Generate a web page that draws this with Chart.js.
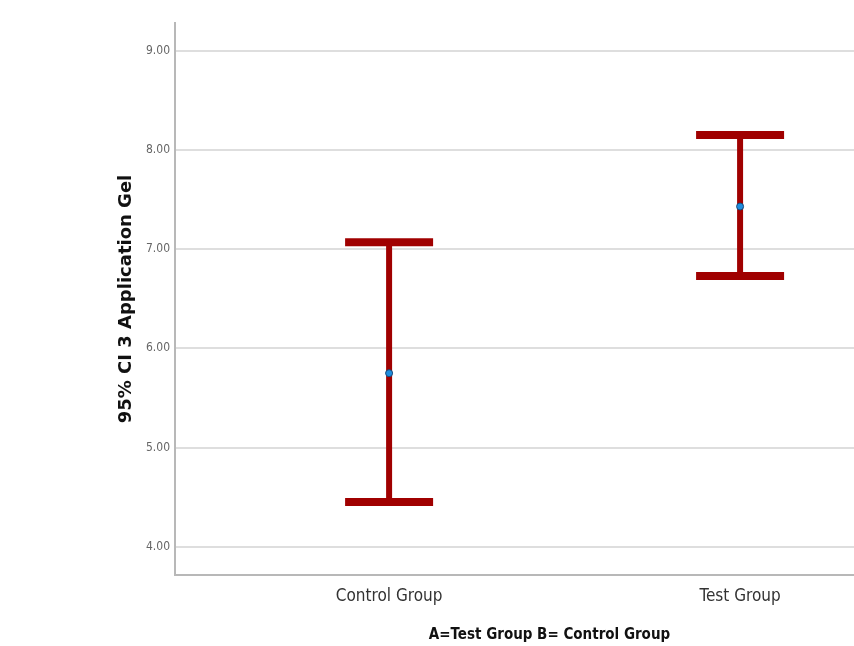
<!DOCTYPE html>
<html>
<head>
<meta charset="utf-8">
<script src="https://cdn.jsdelivr.net/npm/chart.js@4.4.1/dist/chart.umd.min.js"></script>
<style>
  html, body { margin: 0; padding: 0; background: #fff; overflow: hidden; }
  #wrap { width: 854px; height: 646px; overflow: hidden; position: relative; }
  #ci { position: absolute; left: 0; top: 0; }
</style>
</head>
<body>
<div id="wrap"><canvas id="ci" width="924" height="646"></canvas></div>
<script>
const groups = ['Control Group', 'Test Group'];
const means = [5.75, 7.43];
const lower = [4.45, 6.73];
const upper = [7.07, 8.15];
const yTicks = [4, 5, 6, 7, 8, 9];

const RED = '#a00000';
const condensed = "'DejaVu Sans Condensed', 'Liberation Sans Narrow', sans-serif";

// one vertical whisker per group
const whiskers = groups.map((g, i) => ({
  type: 'line',
  label: g + ' CI',
  data: [{x: i, y: lower[i]}, {x: i, y: upper[i]}],
  borderColor: RED,
  borderWidth: 6,
  pointRadius: 0,
  order: 3
}));

const caps = {
  type: 'scatter',
  label: 'caps',
  data: groups.flatMap((g, i) => [{x: i, y: lower[i]}, {x: i, y: upper[i]}]),
  pointStyle: 'line',
  pointRadius: 44,
  pointHoverRadius: 44,
  borderColor: RED,
  borderWidth: 8,
  order: 2
};

const meanPts = {
  type: 'scatter',
  label: 'mean',
  data: groups.map((g, i) => ({x: i, y: means[i]})),
  pointStyle: 'circle',
  pointRadius: 3.5,
  backgroundColor: '#1e8ee0',
  borderColor: '#174a78',
  borderWidth: 1,
  order: 1
};

new Chart(document.getElementById('ci'), {
  type: 'scatter',
  data: { datasets: [...whiskers, caps, meanPts] },
  options: {
    responsive: false,
    animation: false,
    devicePixelRatio: 1,
    layout: { autoPadding: false, padding: { top: 23, right: 0, left: 0, bottom: 0 } },
    plugins: { legend: { display: false }, tooltip: { enabled: false } },
    scales: {
      x: {
        type: 'linear',
        min: -0.61,
        max: 1.524,
        afterBuildTicks: (s) => { s.ticks = groups.map((g, i) => ({value: i})); },
        afterFit: (s) => { s.height = 71; },
        ticks: {
          callback: (v) => groups[v],
          color: '#333',
          padding: 11,
          font: { family: condensed, size: 17 }
        },
        grid: { display: false, drawTicks: false },
        border: { color: '#b8b8b8', width: 2 },
        title: {
          display: true,
          text: 'A=Test Group B= Control Group',
          color: '#111',
          padding: { top: 0, bottom: 2 },
          font: { family: condensed, size: 15, weight: 'bold' }
        }
      },
      y: {
        min: 3.715,
        max: 9.28,
        afterBuildTicks: (s) => { s.ticks = yTicks.map(v => ({value: v})); },
        afterFit: (s) => { s.width = 175; },
        ticks: {
          callback: (v) => v.toFixed(2),
          color: '#666',
          padding: 5,
          font: { family: condensed, size: 12 }
        },
        grid: { color: '#dedede', lineWidth: 2, drawTicks: false },
        border: { color: '#b8b8b8', width: 2 },
        title: {
          display: true,
          text: '95% CI 3 Application Gel',
          color: '#111',
          padding: { top: 116, bottom: 0 },
          font: { family: "'DejaVu Sans', sans-serif", size: 18, weight: 'bold' }
        }
      }
    }
  }
});
</script>
</body>
</html>
